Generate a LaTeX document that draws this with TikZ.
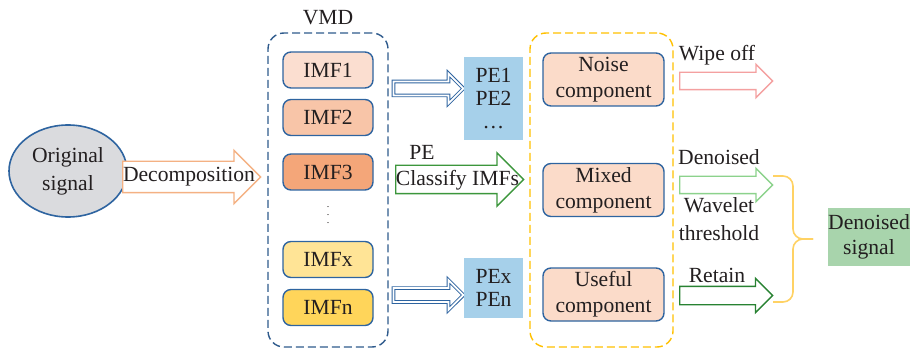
\documentclass[tikz,border=0pt]{standalone}
\usepackage{fontspec}
\setmainfont{Liberation Serif}
\usetikzlibrary{shapes.geometric,shapes.arrows,positioning}
\definecolor{ink}{RGB}{35,31,32}
\definecolor{edgeblue}{RGB}{46,100,160}
\definecolor{vmdblue}{RGB}{46,90,140}
\definecolor{sigray}{RGB}{218,219,222}
\definecolor{decorange}{RGB}{244,177,131}
\definecolor{imfa}{RGB}{251,222,208}
\definecolor{imfb}{RGB}{248,197,168}
\definecolor{imfc}{RGB}{244,166,121}
\definecolor{imfx}{RGB}{255,228,150}
\definecolor{imfn}{RGB}{255,213,90}
\definecolor{peblue}{RGB}{166,208,234}
\definecolor{classgreen}{RGB}{60,150,60}
\definecolor{groupgold}{RGB}{255,192,0}
\definecolor{compfill}{RGB}{251,219,201}
\definecolor{wipepink}{RGB}{244,160,160}
\definecolor{lightgreen}{RGB}{140,210,140}
\definecolor{darkgreen}{RGB}{40,130,50}
\definecolor{bracegold}{RGB}{255,210,100}
\definecolor{resgreen}{RGB}{168,212,172}
\tikzset{
groupbox/.style = {rectangle, rounded corners=8pt, line width=0.7pt, dash pattern=on 4pt off 2pt, inner sep=0pt},% dashed frame
imfbox/.style = {rectangle, rounded corners=4pt, draw=edgeblue, line width=0.7pt, minimum width=45pt, minimum height=18pt, inner sep=0pt},% one mode
compbox/.style = {rectangle, rounded corners=4pt, draw=edgeblue, fill=compfill, line width=0.7pt, minimum width=60.5pt, minimum height=26.5pt, inner sep=0pt, align=center, font=\fontsize{10.8}{13}\selectfont},% sorted part
pebox/.style = {rectangle, fill=peblue, minimum width=29.5pt, inner sep=0pt, align=center, font=\fontsize{10.8}{11.5}\selectfont},% entropy values
fatarrow/.style = {single arrow, draw, fill=white, line width=0.7pt, inner sep=0pt, text depth=0pt, anchor=tail},% hollow block arrow
dblarrow/.style = {draw=edgeblue, line width=0.45pt, double=white, double distance=0.9pt}% double lined arrow
}
\begin{document}
\begin{tikzpicture}[x=0.5pt,y=-0.5pt,font=\fontsize{10.8}{12.5}\selectfont,
  every node/.append style={text=ink}]
  \useasboundingbox (0,0) rectangle (911,353);
  % input and decomposition
  \node (orig) [ellipse, draw=edgeblue, fill=sigray, line width=0.8pt, minimum width=59pt, minimum height=46pt, inner sep=0pt, align=center, font=\fontsize{10.8}{14}\selectfont] at (68,171) {Original\\signal};
  \node (decarrow) [fatarrow, draw=decorange, minimum height=69pt, text height=15pt, single arrow head extend=5.5pt] at (122,177) {};
  \node (dectext) at (189,177) {Decomposition};
  % VMD modes
  \node (vmd) [groupbox, draw=vmdblue, minimum width=60pt, minimum height=157pt] at (328,190) {};
  \node (vmdtext) [above=0pt of vmd] {VMD};
  \foreach \n/\y/\c in {1/70/imfa, 2/117.5/imfb, 3/172/imfc, x/259.5/imfx, n/307.5/imfn}
    \node (imf\n) [imfbox, fill=\c] at (328,\y) {IMF\n};
  \node (imfdots) [inner sep=0pt] at (328,209) {\tiny$\vdots$};
  % permutation entropy
  \node (pearrowa) [fatarrow, dblarrow, minimum height=35pt, text height=6.5pt, single arrow head extend=4pt] at (393,88.5) {};
  \node (pearrowb) [fatarrow, dblarrow, minimum height=35pt, text height=6.5pt, single arrow head extend=4pt] at (393,295) {};
  \node (pea) [pebox, minimum height=41.5pt] at (493.5,98.5) {PE1\\PE2\\\dots};
  \node (peb) [pebox, minimum height=30pt] at (493.5,288) {PEx\\PEn};
  \node (petext) at (422,152) {PE};
  \node (classarrow) [fatarrow, draw=classgreen, minimum height=64pt, text height=13.5pt, single arrow head extend=6.25pt] at (395,179.5) {};
  \node (classtext) at (457.5,180) {Classify IMFs};
  % sorted components
  \node (sorted) [groupbox, draw=groupgold, minimum width=71.5pt, minimum height=157pt] at (601.5,190) {};
  \node (noise) [compbox] at (603.5,79.5) {Noise\\component};
  \node (mixed) [compbox] at (603.5,190) {Mixed\\component};
  \node (useful) [compbox] at (603.5,294.5) {Useful\\component};
  % treatment
  \node (wipearrow) [fatarrow, draw=wipepink, minimum height=46.5pt, text height=8pt, single arrow head extend=4pt] at (679,81) {};
  \node (wipetext) at (717,55) {Wipe off};
  \node (mixarrow) [fatarrow, draw=lightgreen, minimum height=46.5pt, text height=8pt, single arrow head extend=4pt] at (679,185) {};
  \node (mixtext) at (719,157) {Denoised};
  \node (wavtext) [align=center, font=\fontsize{10.8}{14}\selectfont] at (719,219) {Wavelet\\threshold};
  \node (keeparrow) [fatarrow, draw=darkgreen, minimum height=46.5pt, text height=8.5pt, single arrow head extend=4pt] at (679,295.5) {};
  \node (keeptext) at (717,275) {Retain};
  % output
  \coordinate (bracetop) at (773,176);
  \coordinate (bracebot) at (773,302);
  \coordinate (bracetip) at (813,239);
  \draw [bracegold, line width=0.8pt, rounded corners=5pt] (bracetop) -- (793,176) -- (793,239) -- (bracetip);
  \draw [bracegold, line width=0.8pt, rounded corners=5pt] (bracebot) -- (793,302) -- (793,239) -- (bracetip);
  \node (result) [fill=resgreen, minimum width=41pt, minimum height=29pt, inner sep=0pt, align=center] at (869,237) {Denoised\\signal};
\end{tikzpicture}
\end{document}
